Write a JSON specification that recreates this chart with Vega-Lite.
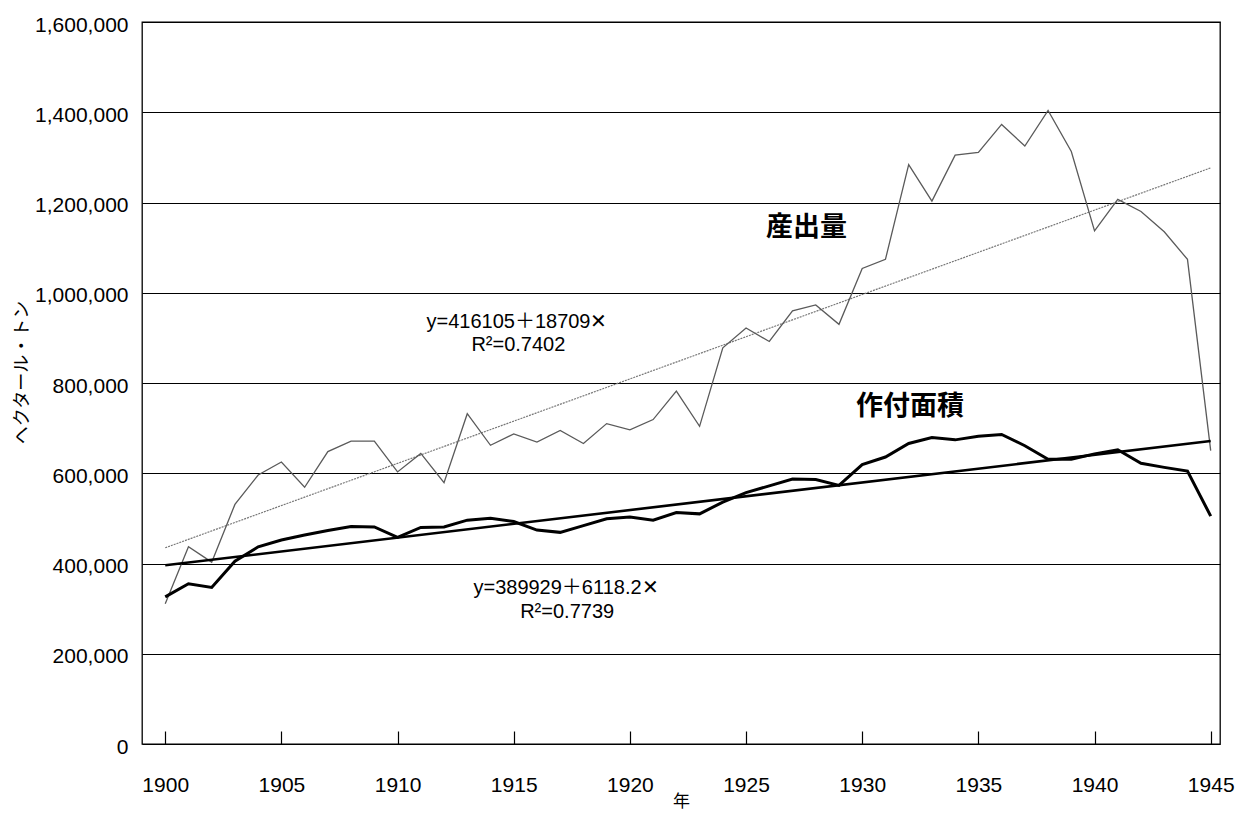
{
  "$schema": "https://vega.github.io/schema/vega-lite/v6.json",
  "width": 1078,
  "height": 722,
  "autosize": {"type": "none"},
  "padding": {"left": 142, "top": 22, "right": 29, "bottom": 72},
  "background": "white",
  "config": {
    "view": {"stroke": "black", "strokeWidth": 1.3},
    "axis": {"labelFont": "Liberation Sans", "labelFontSize": 21, "labelFontWeight": "normal", "labelColor": "black", "titleColor": "black", "domain": false}
  },
  "datasets": {
    "series": [
      {"year": 1900, "series": "産出量", "value": 311000},
      {"year": 1901, "series": "産出量", "value": 437000},
      {"year": 1902, "series": "産出量", "value": 403000},
      {"year": 1903, "series": "産出量", "value": 531000},
      {"year": 1904, "series": "産出量", "value": 596000},
      {"year": 1905, "series": "産出量", "value": 625000},
      {"year": 1906, "series": "産出量", "value": 569000},
      {"year": 1907, "series": "産出量", "value": 648000},
      {"year": 1908, "series": "産出量", "value": 671000},
      {"year": 1909, "series": "産出量", "value": 671000},
      {"year": 1910, "series": "産出量", "value": 603000},
      {"year": 1911, "series": "産出量", "value": 644000},
      {"year": 1912, "series": "産出量", "value": 579000},
      {"year": 1913, "series": "産出量", "value": 732000},
      {"year": 1914, "series": "産出量", "value": 662000},
      {"year": 1915, "series": "産出量", "value": 687000},
      {"year": 1916, "series": "産出量", "value": 669000},
      {"year": 1917, "series": "産出量", "value": 695000},
      {"year": 1918, "series": "産出量", "value": 666000},
      {"year": 1919, "series": "産出量", "value": 710000},
      {"year": 1920, "series": "産出量", "value": 696000},
      {"year": 1921, "series": "産出量", "value": 719000},
      {"year": 1922, "series": "産出量", "value": 782000},
      {"year": 1923, "series": "産出量", "value": 704000},
      {"year": 1924, "series": "産出量", "value": 878000},
      {"year": 1925, "series": "産出量", "value": 922000},
      {"year": 1926, "series": "産出量", "value": 892000},
      {"year": 1927, "series": "産出量", "value": 960000},
      {"year": 1928, "series": "産出量", "value": 973000},
      {"year": 1929, "series": "産出量", "value": 930000},
      {"year": 1930, "series": "産出量", "value": 1054000},
      {"year": 1931, "series": "産出量", "value": 1074000},
      {"year": 1932, "series": "産出量", "value": 1284000},
      {"year": 1933, "series": "産出量", "value": 1203000},
      {"year": 1934, "series": "産出量", "value": 1305000},
      {"year": 1935, "series": "産出量", "value": 1311000},
      {"year": 1936, "series": "産出量", "value": 1373000},
      {"year": 1937, "series": "産出量", "value": 1325000},
      {"year": 1938, "series": "産出量", "value": 1404000},
      {"year": 1939, "series": "産出量", "value": 1313000},
      {"year": 1940, "series": "産出量", "value": 1137000},
      {"year": 1941, "series": "産出量", "value": 1207000},
      {"year": 1942, "series": "産出量", "value": 1180000},
      {"year": 1943, "series": "産出量", "value": 1135000},
      {"year": 1944, "series": "産出量", "value": 1074000},
      {"year": 1945, "series": "産出量", "value": 650000},
      {"year": 1900, "series": "作付面積", "value": 326000},
      {"year": 1901, "series": "作付面積", "value": 355000},
      {"year": 1902, "series": "作付面積", "value": 347000},
      {"year": 1903, "series": "作付面積", "value": 405000},
      {"year": 1904, "series": "作付面積", "value": 437000},
      {"year": 1905, "series": "作付面積", "value": 452000},
      {"year": 1906, "series": "作付面積", "value": 463000},
      {"year": 1907, "series": "作付面積", "value": 473000},
      {"year": 1908, "series": "作付面積", "value": 482000},
      {"year": 1909, "series": "作付面積", "value": 481000},
      {"year": 1910, "series": "作付面積", "value": 458000},
      {"year": 1911, "series": "作付面積", "value": 480000},
      {"year": 1912, "series": "作付面積", "value": 481000},
      {"year": 1913, "series": "作付面積", "value": 496000},
      {"year": 1914, "series": "作付面積", "value": 500000},
      {"year": 1915, "series": "作付面積", "value": 493000},
      {"year": 1916, "series": "作付面積", "value": 474000},
      {"year": 1917, "series": "作付面積", "value": 469000},
      {"year": 1918, "series": "作付面積", "value": 484000},
      {"year": 1919, "series": "作付面積", "value": 499000},
      {"year": 1920, "series": "作付面積", "value": 503000},
      {"year": 1921, "series": "作付面積", "value": 496000},
      {"year": 1922, "series": "作付面積", "value": 513000},
      {"year": 1923, "series": "作付面積", "value": 510000},
      {"year": 1924, "series": "作付面積", "value": 536000},
      {"year": 1925, "series": "作付面積", "value": 557000},
      {"year": 1926, "series": "作付面積", "value": 572000},
      {"year": 1927, "series": "作付面積", "value": 587000},
      {"year": 1928, "series": "作付面積", "value": 586000},
      {"year": 1929, "series": "作付面積", "value": 573000},
      {"year": 1930, "series": "作付面積", "value": 619000},
      {"year": 1931, "series": "作付面積", "value": 636000},
      {"year": 1932, "series": "作付面積", "value": 666000},
      {"year": 1933, "series": "作付面積", "value": 679000},
      {"year": 1934, "series": "作付面積", "value": 674000},
      {"year": 1935, "series": "作付面積", "value": 682000},
      {"year": 1936, "series": "作付面積", "value": 686000},
      {"year": 1937, "series": "作付面積", "value": 661000},
      {"year": 1938, "series": "作付面積", "value": 631000},
      {"year": 1939, "series": "作付面積", "value": 631000},
      {"year": 1940, "series": "作付面積", "value": 643000},
      {"year": 1941, "series": "作付面積", "value": 652000},
      {"year": 1942, "series": "作付面積", "value": 622000},
      {"year": 1943, "series": "作付面積", "value": 613000},
      {"year": 1944, "series": "作付面積", "value": 605000},
      {"year": 1945, "series": "作付面積", "value": 505000}
    ],
    "trend": [
      {"year": 1900, "series": "産出量", "value": 434814},
      {"year": 1945, "series": "産出量", "value": 1276719},
      {"year": 1900, "series": "作付面積", "value": 396047},
      {"year": 1945, "series": "作付面積", "value": 671366}
    ],
    "labels": [
      {"year": 1927.6, "value": 1143000, "label": "産出量"},
      {"year": 1932.06, "value": 747000, "label": "作付面積"}
    ],
    "equations": [
      {"year": 1915.14, "value": 935000, "label": "y=416105＋18709✕"},
      {"year": 1915.2, "value": 884000, "label": "R²=0.7402"},
      {"year": 1917.25, "value": 346000, "label": "y=389929＋6118.2✕"},
      {"year": 1917.3, "value": 292000, "label": "R²=0.7739"}
    ]
  },
  "encoding": {
    "x": {
      "field": "year", "type": "quantitative",
      "scale": {"domain": [1899.0, 1945.4], "nice": false, "zero": false},
      "axis": {
        "values": [1900, 1905, 1910, 1915, 1920, 1925, 1930, 1935, 1940, 1945],
        "format": "d", "grid": false, "ticks": true, "tickSize": -13, "tickColor": "black", "tickWidth": 1.2,
        "labelPadding": 43, "labelBaseline": "top",
        "title": "年", "titleFont": "Noto Sans CJK JP", "titleFontSize": 17, "titleFontWeight": "normal",
        "titleX": 539, "titleY": 57, "titleBaseline": "middle", "titleAlign": "center"
      }
    },
    "y": {
      "field": "value", "type": "quantitative",
      "scale": {"domain": [0, 1600000], "nice": false},
      "axis": {
        "values": [0, 200000, 400000, 600000, 800000, 1000000, 1200000, 1400000, 1600000],
        "format": ",d", "grid": true, "gridColor": "black", "gridWidth": 1.2, "gridOpacity": 1,
        "ticks": false, "labelPadding": 14, "labelOffset": 3,
        "title": "ヘクタール・トン", "titleFont": "Noto Sans CJK JP", "titleFontSize": 18, "titleFontWeight": "normal",
        "titleAngle": -90, "titleX": -120, "titleY": 350, "titleAlign": "center", "titleBaseline": "middle"
      }
    }
  },
  "layer": [
    {
      "data": {"name": "trend"},
      "transform": [{"filter": "datum.series === '産出量'"}],
      "mark": {"type": "line", "color": "#777777", "strokeWidth": 1.2, "strokeDash": [2, 1]}
    },
    {
      "data": {"name": "series"},
      "transform": [{"filter": "datum.series === '産出量'"}],
      "mark": {"type": "line", "color": "#5a5a5a", "strokeWidth": 1.3}
    },
    {
      "data": {"name": "trend"},
      "transform": [{"filter": "datum.series === '作付面積'"}],
      "mark": {"type": "line", "color": "black", "strokeWidth": 2.6}
    },
    {
      "data": {"name": "series"},
      "transform": [{"filter": "datum.series === '作付面積'"}],
      "mark": {"type": "line", "color": "black", "strokeWidth": 3}
    },
    {
      "data": {"name": "labels"},
      "mark": {"type": "text", "font": "Noto Sans CJK JP", "fontWeight": "bold", "fontSize": 27, "color": "black", "align": "center", "baseline": "middle"},
      "encoding": {"text": {"field": "label"}}
    },
    {
      "data": {"name": "equations"},
      "mark": {"type": "text", "font": "Liberation Sans, Noto Sans CJK JP", "fontSize": 20, "color": "black", "align": "center", "baseline": "middle"},
      "encoding": {"text": {"field": "label"}}
    }
  ]
}
